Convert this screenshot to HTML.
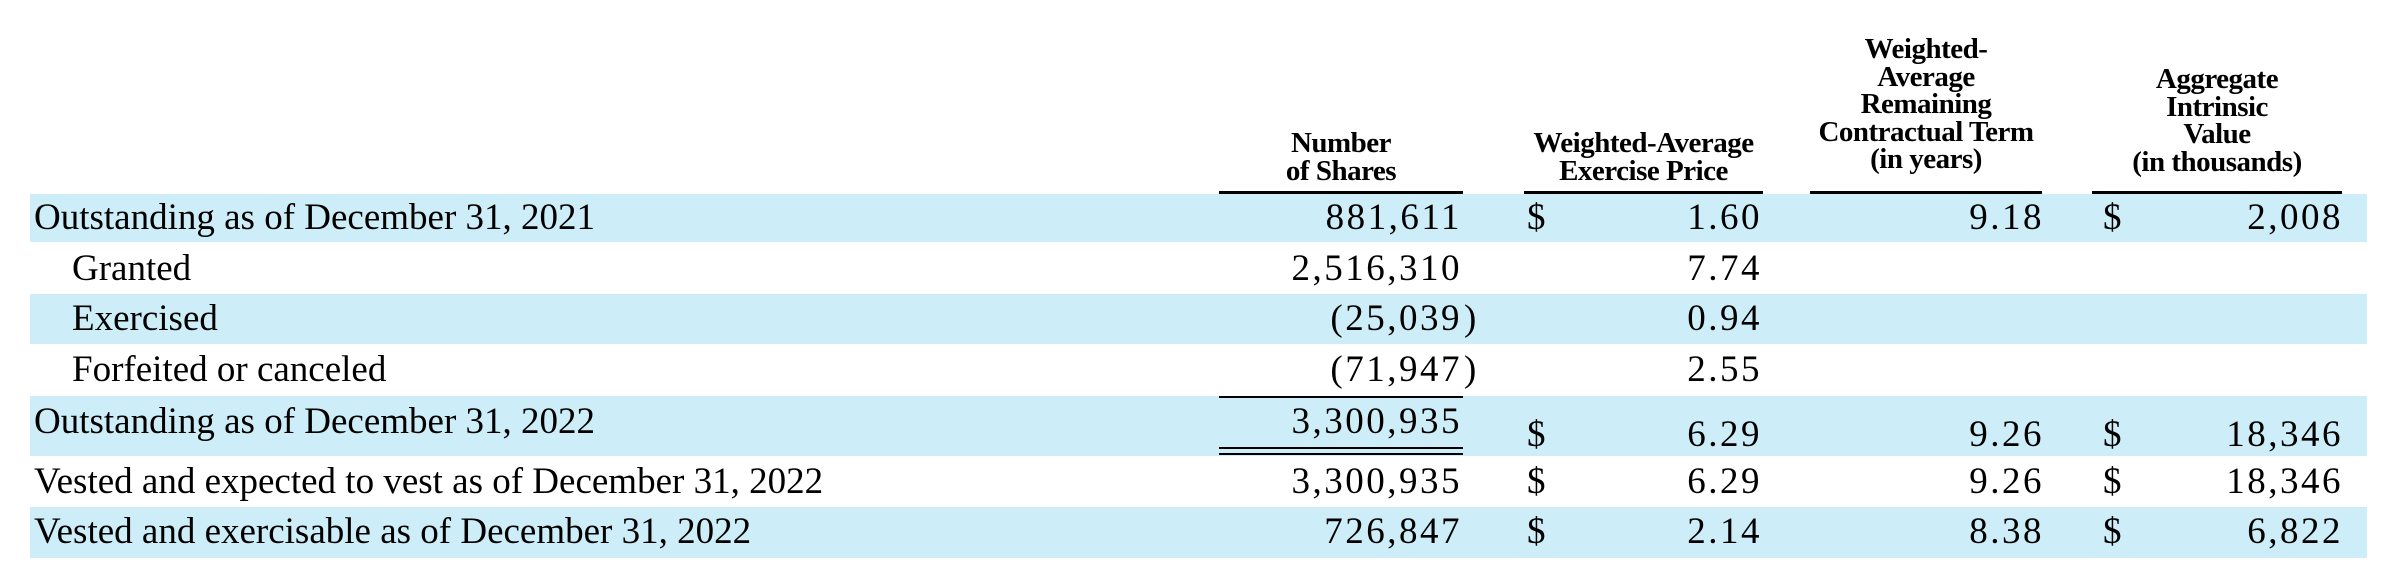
<!DOCTYPE html>
<html><head><meta charset="utf-8">
<style>
body{margin:0;width:2390px;height:586px;background:#fff;position:relative;overflow:hidden;font-family:"Liberation Serif",serif;color:#000}
.band{position:absolute;left:30px;width:2337px;background:#cdeef8}
.t{position:absolute;font-size:37px;white-space:nowrap;line-height:37px}
.r{text-align:right;letter-spacing:2.5px}
.h{position:absolute;font-weight:bold;font-size:29px;line-height:27.5px;text-align:center;letter-spacing:-0.5px}
.ln{position:absolute;background:#000}
</style></head><body>
<div class="band" style="top:194px;height:48px"></div>
<div class="band" style="top:294px;height:50px"></div>
<div class="band" style="top:396px;height:60px"></div>
<div class="band" style="top:507px;height:51px"></div>

<div class="h" style="left:1200px;width:282px;top:130px">Number<br>of Shares</div>
<div class="h" style="left:1504px;width:279px;top:130px">Weighted-Average<br>Exercise Price</div>
<div class="h" style="left:1786px;width:280px;top:36px">Weighted-<br>Average<br>Remaining<br>Contractual Term<br>(in years)</div>
<div class="h" style="left:2072px;width:290px;top:66px">Aggregate<br>Intrinsic<br>Value<br>(in thousands)</div>
<div class="ln" style="left:1219px;width:244px;top:191px;height:3px"></div>
<div class="ln" style="left:1524px;width:239px;top:191px;height:3px"></div>
<div class="ln" style="left:1810px;width:232px;top:191px;height:3px"></div>
<div class="ln" style="left:2092px;width:250px;top:191px;height:3px"></div>
<div class="ln" style="left:1219px;width:244px;top:396px;height:2px"></div>
<div class="ln" style="left:1219px;width:244px;top:447px;height:2px"></div>
<div class="ln" style="left:1219px;width:244px;top:453px;height:2px"></div>

<div id="rows"></div>
<script>
const labels=["Outstanding as of December 31, 2021","Granted","Exercised","Forfeited or canceled","Outstanding as of December 31, 2022","Vested and expected to vest as of December 31, 2022","Vested and exercisable as of December 31, 2022"];
const indent=[0,1,1,1,0,0,0];
const shares=["881,611","2,516,310","(25,039)","(71,947)","3,300,935","3,300,935","726,847"];
const price=["1.60","7.74","0.94","2.55","6.29","6.29","2.14"];
const priceDollar=[1,0,0,0,1,1,1];
const term=["9.18","","","","9.26","9.26","8.38"];
const value=["2,008","","","","18,346","18,346","6,822"];
const rowY=[199,250,300,351,403,463,513];
const numY=[199,250,300,351,416,463,513];
const host=document.getElementById('rows');
function add(txt,left,top,right,name){
  const d=document.createElement('div');
  d.className='t'+(right?' r':'');
  d.textContent=txt;
  if(right){d.style.left=(left-300)+'px';d.style.width='302px';}else d.style.left=left+'px';
  d.style.top=top+'px';
  
  
  host.appendChild(d);
}
labels.forEach((l,i)=>{
  add(l,indent[i]?72:34,rowY[i],false,'row-label');
  const s=shares[i];
  if(s.endsWith(')')){add(s.slice(0,-1),1460,rowY[i],true,'shares-value');add(')',1464,rowY[i],false,'shares-paren');}
  else add(s,1460,rowY[i],true,'shares-value');
  if(priceDollar[i])add('$',1527,numY[i],false,'price-dollar');
  add(price[i],1760,numY[i],true,'price-value');
  if(term[i])add(term[i],2042,numY[i],true,'term-value');
  if(value[i]){add('$',2103,numY[i],false,'value-dollar');add(value[i],2341,numY[i],true,'intrinsic-value');}
});
</script>
</body></html>
